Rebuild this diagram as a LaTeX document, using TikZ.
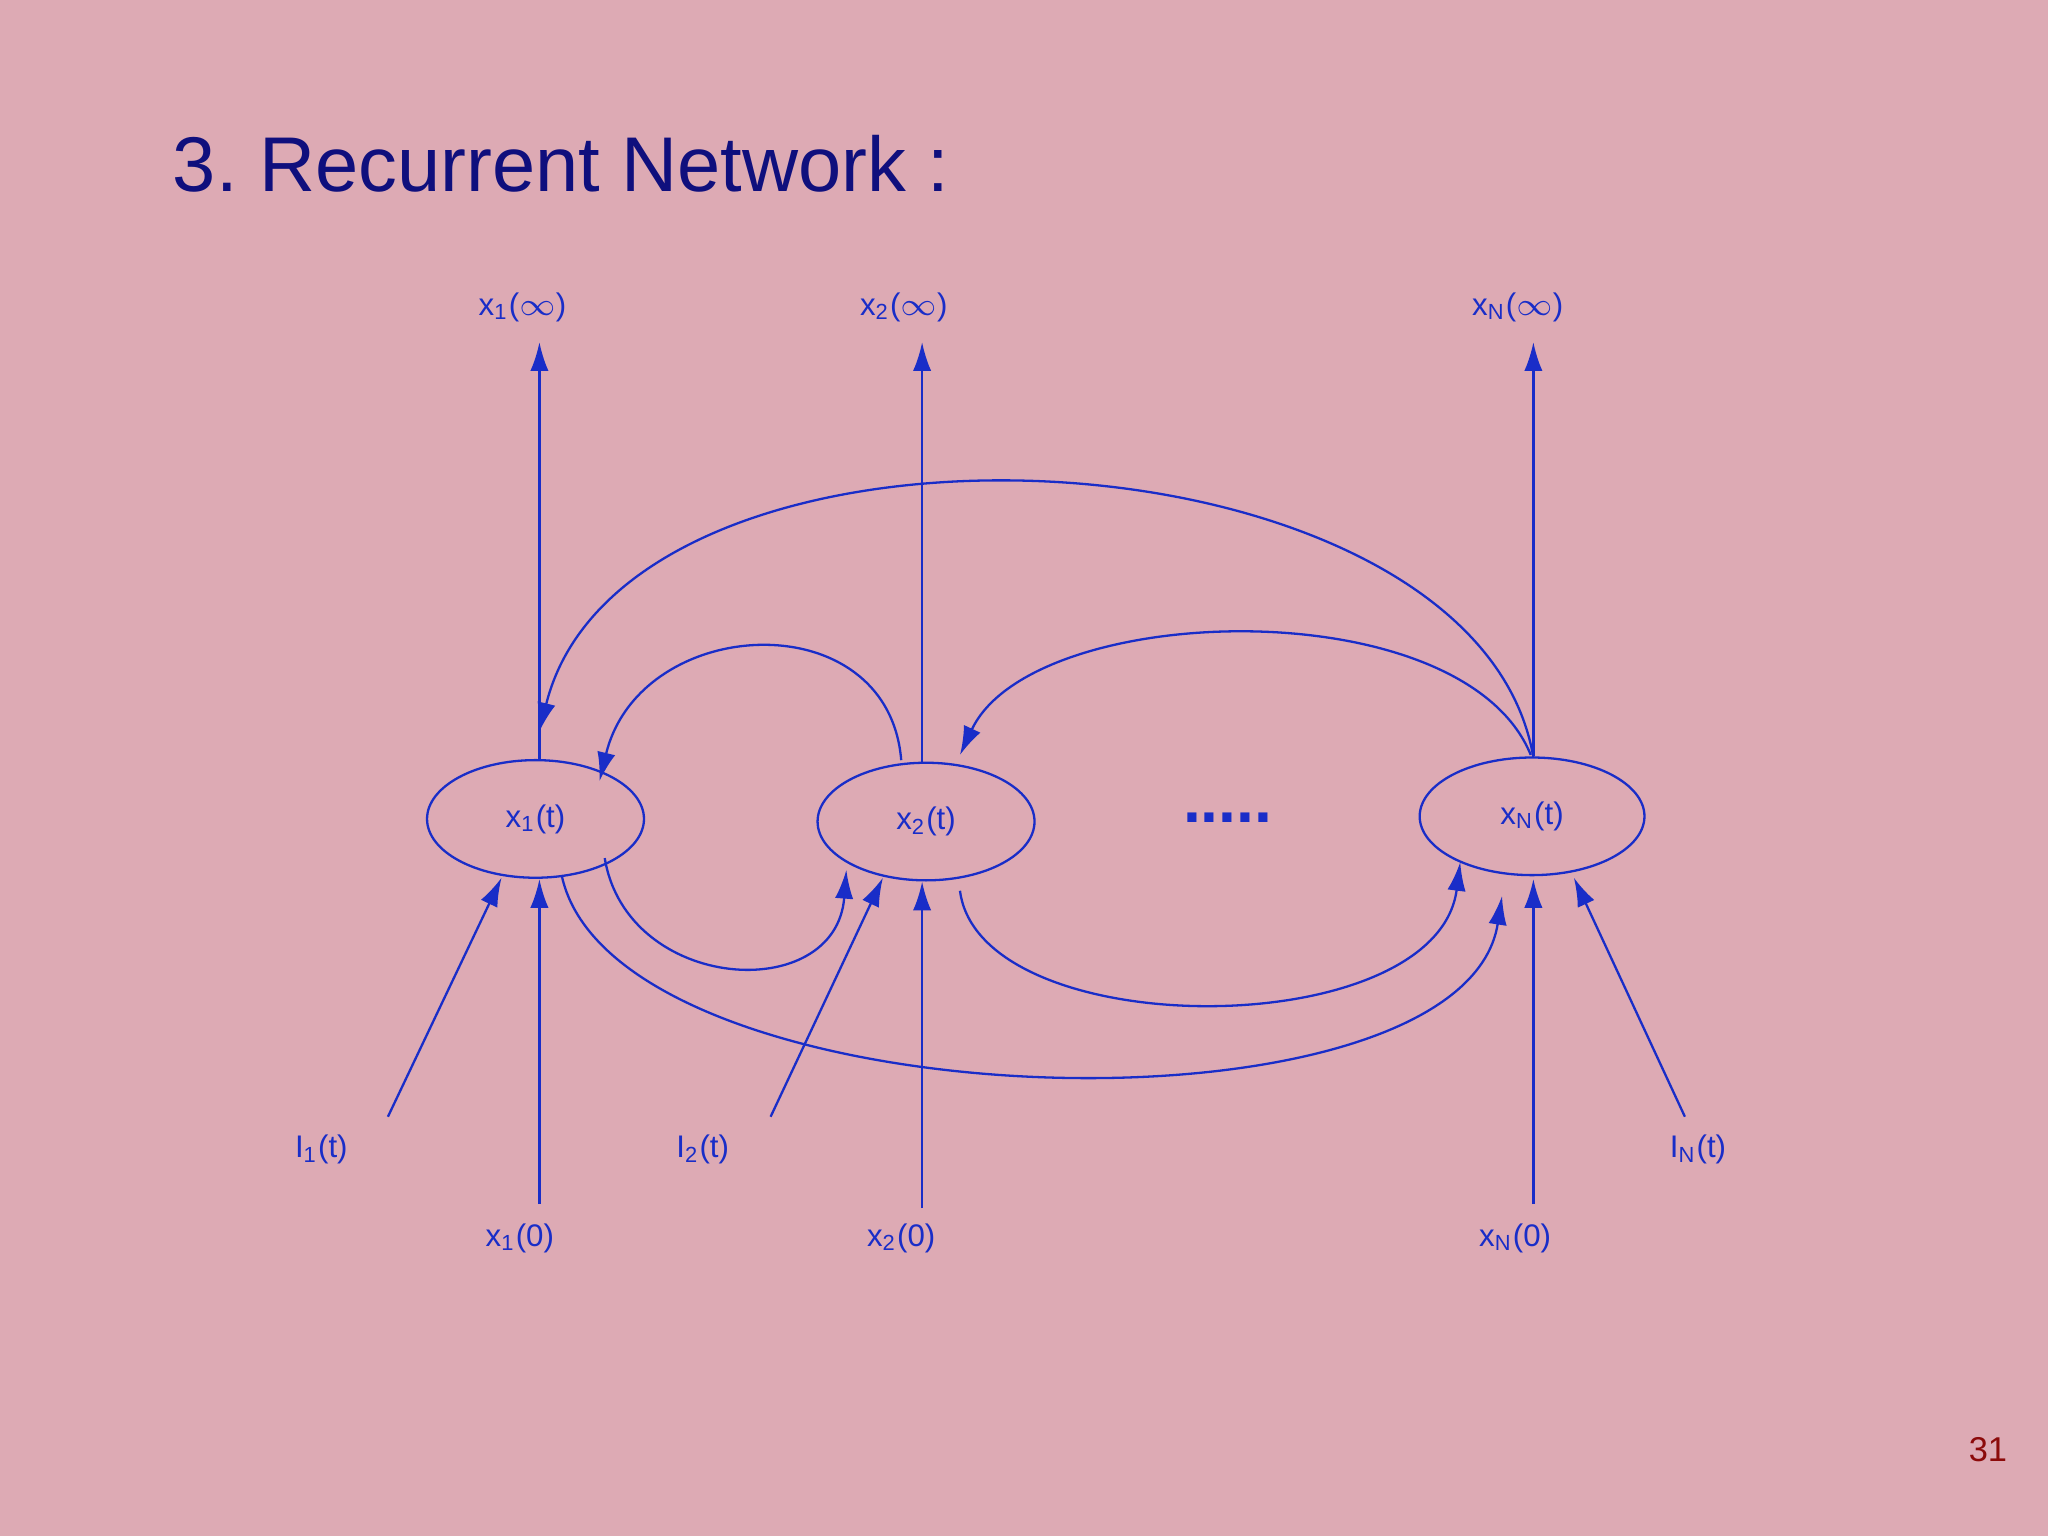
\documentclass[tikz,border=0pt]{standalone}
\usepackage{fontspec}
\setmainfont{Liberation Sans}
\usetikzlibrary{shapes.geometric,arrows.meta}
\definecolor{bg}{RGB}{221,170,180}
\definecolor{ln}{RGB}{25,45,200}
\definecolor{ttl}{RGB}{15,15,125}
\definecolor{pg}{RGB}{140,10,10}
\frenchspacing
\begin{document}
\begin{tikzpicture}[x={(0.01cm,0)},y={(0,-0.01cm)},
  neuron/.style={draw=ln,line width=0.5pt,ellipse,inner sep=0,minimum width=1.66cm,minimum height=0.9cm,text=ln,font=\fontsize{6.8}{8}\selectfont},
  lbl/.style={text=ln,font=\fontsize{6.8}{8}\selectfont,inner sep=1pt},
  arr/.style={draw=ln,line width=0.5pt,-{Latex[length=2.2mm,width=1.4mm]}}]
\fill[bg] (0,0) rectangle (1568,1176);
\node[anchor=west,text=ttl,font=\fontsize{16.9}{20}\selectfont] (title) at (120,125) {3. Recurrent Network :};
\node[text=pg,font=\fontsize{7.5}{9}\selectfont] (page) at (1522,1110) {31};
\node[neuron] (n1) at (410,627) {x\textsubscript{1}(t)};
\node[neuron] (n2) at (709,629) {x\textsubscript{2}(t)};
\node[neuron,minimum width=1.72cm] (nN) at (1173,625) {x\textsubscript{N}(t)};
\node[text=ln,font=\fontsize{14}{14}\bfseries\selectfont] (dots) at (940,626) {.....};
% outputs
\node[lbl] (o1) at (400,235) {x\textsubscript{1}($\infty$)};
\node[lbl] (o2) at (692,235) {x\textsubscript{2}($\infty$)};
\node[lbl] (oN) at (1162,235) {x\textsubscript{N}($\infty$)};
\coordinate (t1) at (413,262); \coordinate (t2) at (706,262); \coordinate (tN) at (1174,262);
\draw[arr] (n1.north -| t1) -- (t1);
\draw[arr] (n2.north -| t2) -- (t2);
\draw[arr] (nN.north -| tN) -- (tN);
% initial states
\node[lbl] (i1) at (398,948) {x\textsubscript{1}(0)};
\node[lbl] (i2) at (690,948) {x\textsubscript{2}(0)};
\node[lbl] (iN) at (1160,948) {x\textsubscript{N}(0)};
\coordinate (b1) at (413,922); \coordinate (b2) at (706,925); \coordinate (bN) at (1174,922);
\draw[arr] (b1) -- (413,673);
\draw[arr] (b2) -- (706,675);
\draw[arr] (bN) -- (1174,673);
% inputs
\node[lbl] (I1) at (246,880) {I\textsubscript{1}(t)};
\node[lbl] (I2) at (538,880) {I\textsubscript{2}(t)};
\node[lbl] (IN) at (1300,880) {I\textsubscript{N}(t)};
\coordinate (c1) at (297,855); \coordinate (c2) at (590,855); \coordinate (cN) at (1290,855);
\draw[arr] (c1) -- (384,672);
\draw[arr] (c2) -- (676,672);
\draw[arr] (cN) -- (1205,672);
% recurrent connections
\draw[arr] (1174,580) .. controls (1130,320) and (480,290) .. (413,560);
\draw[arr] (690,582) .. controls (680,460) and (490,470) .. (459,598);
\draw[arr] (1172,578) .. controls (1120,450) and (790,460) .. (735,578);
\draw[arr] (463,657) .. controls (480,760) and (640,770) .. (648,666);
\draw[arr] (430,670) .. controls (470,860) and (1120,880) .. (1150,686);
\draw[arr] (735,682) .. controls (750,800) and (1100,800) .. (1118,660);
\end{tikzpicture}
\end{document}
